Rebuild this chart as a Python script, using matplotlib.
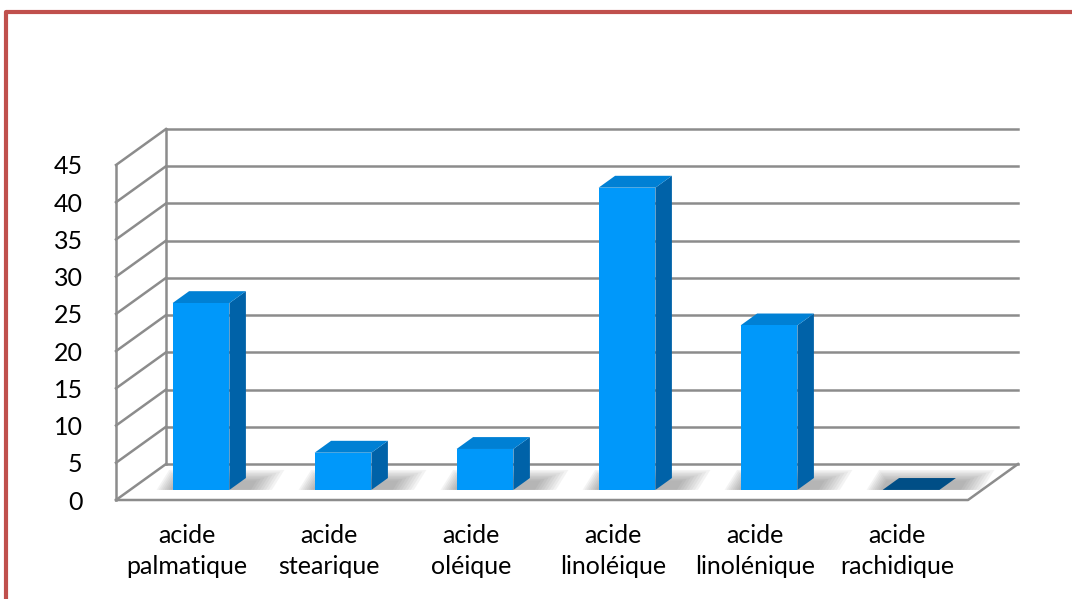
import matplotlib
matplotlib.use("Agg")
import matplotlib.pyplot as plt
from matplotlib.patches import Polygon
from matplotlib.lines import Line2D

plt.rcParams['font.family'] = ['Lato', 'DejaVu Sans']

# données
categories = ["acide\npalmatique", "acide\nstearique", "acide\noléique",
              "acide\nlinoléique", "acide\nlinolénique", "acide\nrachidique"]
values = [25.1, 5.0, 5.5, 40.6, 22.1, 0.0]
yticks = [0, 5, 10, 15, 20, 25, 30, 35, 40, 45]

# style
GRID = "#8c8c8c"
FRONT = "#0098fa"
SIDE = "#0062a8"
TOP = "#0080d4"
BASE = "#004e86"
FRAME = "#c0504d"

W, H = 1072, 599
fig = plt.figure(figsize=(W / 100, H / 100), dpi=100)

# plan avant du graphique (en pixels)
left_px, right_px, bottom_px, top_px = 116, 968, 500, 165
ax = fig.add_axes([left_px / W, 1 - bottom_px / H,
                   (right_px - left_px) / W, (bottom_px - top_px) / H])
n = len(categories)
ax.set_xlim(-0.5, n - 0.5)
ax.set_ylim(0, 45)
for s in ax.spines.values():
    s.set_visible(False)
ax.set_facecolor("none")

# décalage en profondeur (unités de données)
px_x = (right_px - left_px) / n      # pixels par catégorie
px_y = (bottom_px - top_px) / 45     # pixels par unité
DX = 50 / px_x
DY = 36 / px_y

# murs : lignes de grille
x0, x1 = -0.5, n - 0.5
for t in yticks:
    ax.add_line(Line2D([x0 + DX, x1 + DX], [t + DY, t + DY], color=GRID, lw=1.8,
                       clip_on=False, zorder=1))
    ax.add_line(Line2D([x0, x0 + DX], [t, t + DY], color=GRID, lw=1.8,
                       clip_on=False, zorder=1))
ax.add_line(Line2D([x0, x0], [0, 45], color=GRID, lw=1.8, clip_on=False, zorder=1))
ax.add_line(Line2D([x0 + DX, x0 + DX], [DY, 45 + DY], color=GRID, lw=1.8,
                   clip_on=False, zorder=1))
# sol
ax.add_line(Line2D([x0, x1, x1 + DX], [0, 0, DY], color=GRID, lw=1.8,
                   clip_on=False, zorder=1))

# barres 3D
w = 0.4
f0, f1 = 0.28, 0.61
xs = list(range(n))
for i, v in zip(xs, values):
    xl = i - w / 2 + f0 * DX
    xr = i + w / 2 + f0 * DX
    yb = f0 * DY
    ddx = (f1 - f0) * DX
    ddy = (f1 - f0) * DY
    # ombre floue sur le sol
    for k in range(8):
        gl = (16 - 2 * k) / px_x
        gr = (26 - 3 * k) / px_x
        gt = (20 - 1.5 * k) / px_y
        sl = 0.45 * gt * DX / DY
        ax.add_patch(Polygon([(xl - gl, yb), (xr + ddx + gr, yb),
                              (xr + ddx + gr + sl, yb + gt),
                              (xl - gl + sl, yb + gt)],
                             closed=True, fc="#606060", ec="none", alpha=0.07,
                             zorder=2, clip_on=False))
    if v > 0:
        ax.add_patch(Polygon([(xr, yb), (xr + ddx, yb + ddy), (xr + ddx, yb + v + ddy),
                              (xr, yb + v)], closed=True, fc=SIDE, ec="none",
                             zorder=3, clip_on=False))
        ax.add_patch(Polygon([(xl, yb + v), (xr, yb + v), (xr + ddx, yb + v + ddy),
                              (xl + ddx, yb + v + ddy)], closed=True, fc=TOP,
                             ec="none", zorder=3, clip_on=False))
    else:
        ax.add_patch(Polygon([(xl, yb), (xr, yb), (xr + ddx, yb + ddy),
                              (xl + ddx, yb + ddy)], closed=True, fc=BASE,
                             ec="none", zorder=3, clip_on=False))

ax.bar([i + f0 * DX for i in xs], values, width=w, bottom=f0 * DY,
       color=FRONT, edgecolor="none", zorder=4, clip_on=False)

ax.set_yticks(yticks)
ax.set_xticks(xs)
ax.set_xticklabels(categories, fontsize=18, linespacing=1.45)
ax.tick_params(axis="y", length=0, pad=24, labelsize=18)
ax.tick_params(axis="x", length=0, pad=17)

# cadre rouge
fig.add_artist(Line2D([6 / W, 6 / W, 1.0], [0, 1 - 12 / H, 1 - 12 / H],
                      transform=fig.transFigure, color=FRAME, lw=3))

fig.savefig("out.png", dpi=100)
